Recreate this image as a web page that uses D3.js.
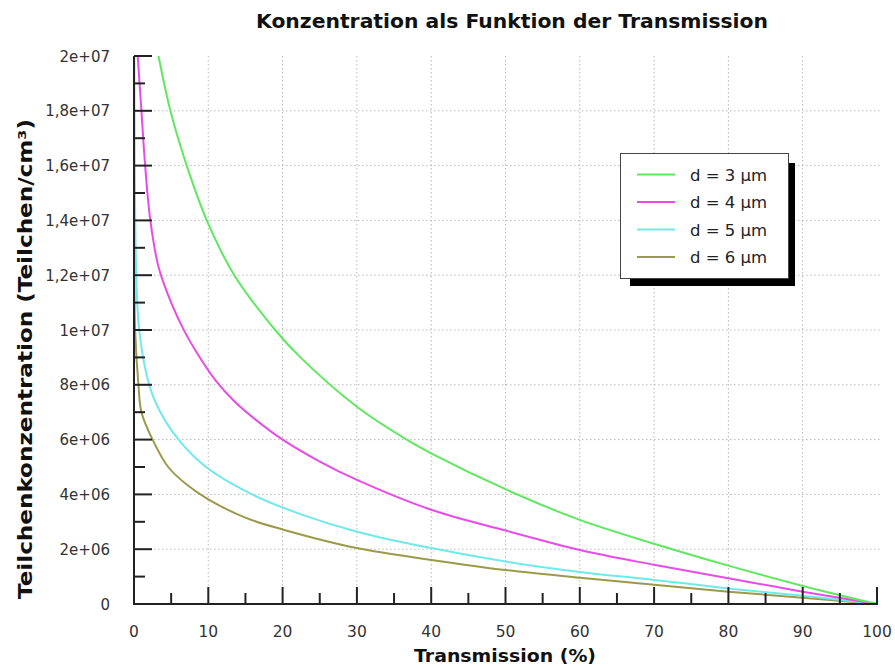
<!DOCTYPE html>
<html>
<head>
<meta charset="utf-8">
<script src="https://cdn.jsdelivr.net/npm/d3@7"></script>
<style>
  html, body { margin: 0; padding: 0; background: #fff; }
  svg { display: block; }
</style>
</head>
<body>
<svg id="chart" width="895" height="668"></svg>
<script>
// ---- data ----
const seriesNames = ["d = 3 µm", "d = 4 µm", "d = 5 µm", "d = 6 µm"];
const seriesColors = ["#5fe85f", "#e84ce8", "#6fe9ea", "#9b9a4a"];

const tD3 = [3.3, 4.9, 7.1, 9.8, 13.5, 19, 22.4, 30, 36.7, 40, 50, 60, 70, 80, 90, 100];
const cD3 = [20, 18, 16, 14, 12, 10, 9.0, 7.2, 6.0, 5.5, 4.19, 3.07, 2.2, 1.4, 0.66, 0];

const tD4 = [0.5, 1.0, 1.5, 2.2, 3.3, 5.0, 6.8, 8.5, 11, 13.5, 16.4, 20, 25, 30, 40, 50, 60, 70, 80, 90, 100];
const cD4 = [20, 18, 16, 14, 12.3, 11.0, 9.95, 9.15, 8.15, 7.4, 6.72, 6.0, 5.2, 4.53, 3.44, 2.68, 1.97, 1.43, 0.94, 0.45, 0];

const tD5 = [0.05, 0.3, 0.7, 1.8, 3.0, 5.7, 9.7, 15.9, 22.2, 30, 40, 50, 60, 70, 80, 90, 100];
const cD5 = [20, 12, 10, 8.25, 7.3, 6.1, 5, 4, 3.3, 2.64, 2.04, 1.55, 1.17, 0.88, 0.57, 0.3, 0];

const tD6 = [0.05, 0.15, 0.6, 1.0, 2.5, 4.6, 7.0, 10, 15, 20, 30, 40, 50, 60, 70, 80, 90, 100];
const cD6 = [13, 10, 8, 7, 6, 5, 4.38, 3.82, 3.15, 2.72, 2.04, 1.61, 1.24, 0.96, 0.7, 0.45, 0.23, 0];

const xTicks = [0, 10, 20, 30, 40, 50, 60, 70, 80, 90, 100];
const yTicks = [0, 2e6, 4e6, 6e6, 8e6, 1e7, 1.2e7, 1.4e7, 1.6e7, 1.8e7, 2e7];
const yTickLabels = ["0", "2e+06", "4e+06", "6e+06", "8e+06", "1e+07", "1,2e+07", "1,4e+07", "1,6e+07", "1,8e+07", "2e+07"];
const unit = 1e6;

const titleText = "Konzentration als Funktion der Transmission";
const xTitle = "Transmission (%)";
const yTitle = "Teilchenkonzentration (Teilchen/cm³)";

// ---- build ----
const svg = d3.select("#chart");
const font = "'DejaVu Sans', Verdana, sans-serif";

const x = d3.scaleLinear().domain([0, 100]).range([134, 877]);
const y = d3.scaleLinear().domain([0, 2e7]).range([604, 56]);

const seriesT = [tD3, tD4, tD5, tD6];
const seriesC = [cD3, cD4, cD5, cD6];
const series = seriesNames.map((n, i) => ({
  name: n, color: seriesColors[i],
  pts: seriesT[i].map((t, j) => ({t, c: seriesC[i][j] * unit}))
}));

// grid
const grid = svg.append("g");
grid.selectAll("line.vx").data(xTicks.filter(d => d > 0 && d < 100)).enter().append("line")
  .attr("x1", d => x(d)).attr("x2", d => x(d)).attr("y1", y(2e7)).attr("y2", y(0))
  .attr("stroke", "#b8b8b8").attr("stroke-width", 1).attr("stroke-dasharray", "1.5,2.5");
grid.selectAll("line.hy").data(yTicks.filter(d => d > 0 && d < 2e7)).enter().append("line")
  .attr("x1", x(0)).attr("x2", x(100) + 3).attr("y1", d => y(d)).attr("y2", d => y(d))
  .attr("stroke", "#b8b8b8").attr("stroke-width", 1).attr("stroke-dasharray", "1.5,2.5");

// clip
svg.append("clipPath").attr("id", "clip").append("rect")
  .attr("x", x(0)).attr("y", y(2e7)).attr("width", x(100) - x(0) + 2).attr("height", y(0) - y(2e7));

const line = d3.line().x(d => x(d.t)).y(d => y(d.c)).curve(d3.curveCatmullRom.alpha(0.5));
svg.append("g").attr("clip-path", "url(#clip)").selectAll("path").data(series.slice().reverse()).enter().append("path")
  .attr("d", d => line(d.pts)).attr("fill", "none").attr("stroke", d => d.color).attr("stroke-width", 2);

// axes (ticks drawn inward)
const axisColor = "#222";
const xMinor = d3.range(0, 101, 5);
const yMinor = d3.range(0, 2e7 + 1, 1e6);
const ax = svg.append("g");
ax.append("line").attr("x1", x(0)).attr("x2", x(100) + 1).attr("y1", y(0)).attr("y2", y(0))
  .attr("stroke", axisColor).attr("stroke-width", 2);
ax.append("line").attr("x1", x(0)).attr("x2", x(0)).attr("y1", y(2e7)).attr("y2", y(0) + 1)
  .attr("stroke", axisColor).attr("stroke-width", 2);
ax.selectAll("line.xt").data(xMinor.filter(d => d > 0)).enter().append("line")
  .attr("x1", d => x(d)).attr("x2", d => x(d)).attr("y1", y(0))
  .attr("y2", d => y(0) - (d % 10 === 0 ? 17 : 11))
  .attr("stroke", axisColor).attr("stroke-width", 2);
ax.selectAll("line.yt").data(yMinor).enter().append("line")
  .attr("y1", d => y(d)).attr("y2", d => y(d)).attr("x1", x(0))
  .attr("x2", d => x(0) + (Math.round(d / 1e6) % 2 === 0 ? 18 : 11))
  .attr("stroke", axisColor).attr("stroke-width", 2);

// tick labels
svg.append("g").selectAll("text").data(xTicks).enter().append("text")
  .attr("x", d => x(d)).attr("y", 637).attr("text-anchor", "middle")
  .attr("font-family", font).attr("font-size", 15.5).attr("fill", "#333").text(d => d);
svg.append("g").selectAll("text").data(yTicks).enter().append("text")
  .attr("x", 110).attr("y", d => y(d) + 5.5).attr("text-anchor", "end")
  .attr("font-family", font).attr("font-size", 15).attr("fill", "#333").text((d, i) => yTickLabels[i]);

// titles
svg.append("text").attr("x", 512).attr("y", 28).attr("text-anchor", "middle")
  .attr("font-family", font).attr("font-weight", "bold").attr("font-size", 19)
  .attr("textLength", 512).attr("lengthAdjust", "spacingAndGlyphs")
  .attr("fill", "#111").text(titleText);
svg.append("text").attr("x", 505).attr("y", 662).attr("text-anchor", "middle")
  .attr("font-family", font).attr("font-weight", "bold").attr("font-size", 18)
  .attr("textLength", 182).attr("lengthAdjust", "spacingAndGlyphs")
  .attr("fill", "#111").text(xTitle);
svg.append("text").attr("transform", "translate(32,359) rotate(-90)").attr("text-anchor", "middle")
  .attr("font-family", font).attr("font-weight", "bold").attr("font-size", 19)
  .attr("textLength", 480).attr("lengthAdjust", "spacingAndGlyphs")
  .attr("fill", "#111").text(yTitle);

// legend
const lg = svg.append("g");
lg.append("rect").attr("x", 630).attr("y", 163).attr("width", 165).attr("height", 123).attr("fill", "#000");
lg.append("rect").attr("x", 620.5).attr("y", 153.5).attr("width", 168).attr("height", 125)
  .attr("fill", "#fff").attr("stroke", "#444").attr("stroke-width", 1);
const rows = lg.selectAll("g.row").data(series).enter().append("g")
  .attr("transform", (d, i) => `translate(0,${174.5 + i * 27.5})`);
rows.append("line").attr("x1", 637).attr("x2", 675).attr("y1", 0).attr("y2", 0)
  .attr("stroke", d => d.color).attr("stroke-width", 2);
rows.append("text").attr("x", 690).attr("y", 6).attr("font-family", font).attr("font-size", 16.5)
  .attr("fill", "#222").text(d => d.name);
</script>
</body>
</html>
